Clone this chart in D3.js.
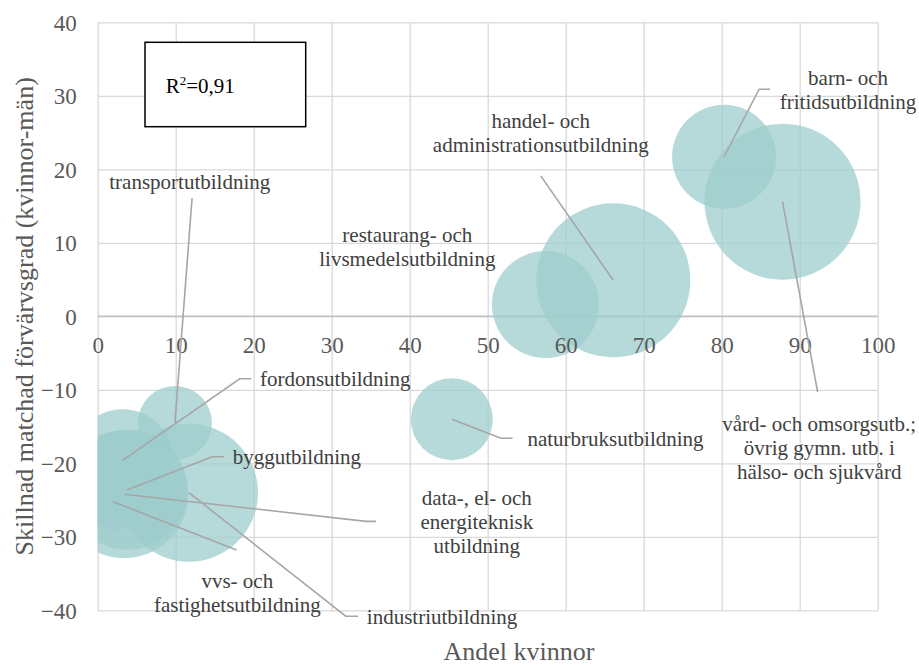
<!DOCTYPE html>
<html><head><meta charset="utf-8">
<script src="https://cdn.jsdelivr.net/npm/d3@7"></script>
<style>
body{margin:0;background:#fff}
svg{display:block}
text{font-family:"Liberation Serif","Times New Roman",serif}
</style>
</head><body>
<svg id="c" width="919" height="665"></svg>
<script>
// ---- data ----
const categories = [
  "barn- och fritidsutbildning",
  "vård- och omsorgsutb.; övrig gymn. utb. i hälso- och sjukvård",
  "handel- och administrationsutbildning",
  "restaurang- och livsmedelsutbildning",
  "naturbruksutbildning",
  "transportutbildning",
  "industriutbildning",
  "fordonsutbildning",
  "byggutbildning",
  "data-, el- och energiteknisk utbildning",
  "vvs- och fastighetsutbildning"
];
const andelKvinnor = [80.3, 87.8, 66.1, 57.4, 45.4, 9.9, 11.7, 3.2, 3.8, 3.4, 1.9];
const skillnad     = [21.7, 15.6, 4.9, 1.6, -14.0, -14.5, -24.0, -19.6, -23.6, -24.2, -25.2];
const bubbleSize   = [44.4, 100, 97.5, 47, 27.6, 22.5, 78.3, 42.8, 59.2, 67.3, 12.9];
const xTicks = [0,10,20,30,40,50,60,70,80,90,100];
const yTicks = [-40,-30,-20,-10,0,10,20,30,40];
const xTitle = "Andel kvinnor";
const yTitle = "Skillnad matchad förvärvsgrad (kvinnor-män)";
const r2Label = ["R", "2", "=0,91"];

// label layout (in data units): text lines, anchor, text position, leader path points
const labelLayout = [
  {i:0, lines:["barn- och","fritidsutbildning"], anchor:"middle", tx:96.2, ty:31.5, path:[[84.8,30.9],[86.2,30.9]]},
  {i:1, lines:["vård- och omsorgsutb.;","övrig gymn. utb. i","hälso- och sjukvård"], anchor:"middle", tx:92.5, ty:-15.6, path:[[92.3,-10.3]]},
  {i:2, lines:["handel- och","administrationsutbildning"], anchor:"middle", tx:56.8, ty:25.6, path:[[56.8,19.1]]},
  {i:3, lines:["restaurang- och","livsmedelsutbildning"], anchor:"middle", tx:39.7, ty:10.1, path:null},
  {i:4, lines:["naturbruksutbildning"], anchor:"start", tx:55.1, ty:-17.6, path:[[51.7,-16.6],[53.2,-16.6]]},
  {i:5, lines:["transportutbildning"], anchor:"middle", tx:11.8, ty:17.3, path:[[12.1,16.1]]},
  {i:6, lines:["industriutbildning"], anchor:"start", tx:34.5, ty:-41.9, path:[[31.8,-40.8],[33.4,-40.8]]},
  {i:7, lines:["fordonsutbildning"], anchor:"start", tx:20.8, ty:-9.5, path:[[18.2,-8.5],[19.7,-8.5]]},
  {i:8, lines:["byggutbildning"], anchor:"start", tx:17.3, ty:-20.1, path:[[14.7,-19.1],[16.2,-19.1]]},
  {i:9, lines:["data-, el- och","energiteknisk","utbildning"], anchor:"middle", tx:48.6, ty:-25.7, path:[[34.4,-27.9],[35.7,-27.9]]},
  {i:10, lines:["vvs- och","fastighetsutbildning"], anchor:"middle", tx:17.9, ty:-36.9, path:[[17.8,-31.8]]}
];

// ---- drawing ----
const svg = d3.select("#c");
const L = 97.7, R = 877.7, T = 22.3, B = 610.3;
const x = d3.scaleLinear().domain([0,100]).range([L,R]);
const y = d3.scaleLinear().domain([-40,40]).range([B,T]);
const rScale = d3.scaleSqrt().domain([0,100]).range([0,78]);

const gridColor = "#d9d9d9", tickColor = "#595959", labelColor = "#404040";

// vertical gridlines
const gx = svg.append("g").attr("transform",`translate(0,${B})`)
  .call(d3.axisBottom(x).tickValues(xTicks).tickSize(-(B-T)).tickFormat(""));
gx.select(".domain").remove();
gx.selectAll("line").attr("stroke",gridColor).attr("stroke-width",1.3);

// horizontal gridlines + y labels
const gy = svg.append("g").attr("transform",`translate(${L},0)`)
  .call(d3.axisLeft(y).tickValues(yTicks).tickSize(-(R-L)).tickPadding(21).tickFormat(d3.format("d")));
gy.select(".domain").remove();
gy.selectAll("line").attr("stroke",gridColor).attr("stroke-width",1.3);
gy.selectAll("text").attr("fill",tickColor).style("font-size","23px")
  .attr("font-family","Liberation Serif").attr("dy","0.34em");

// zero axis line
svg.append("line").attr("x1",L).attr("x2",R).attr("y1",y(0)).attr("y2",y(0))
  .attr("stroke","#bfbfbf").attr("stroke-width",1.6);

// bubbles
svg.append("clipPath").attr("id","plotclip").append("rect")
  .attr("x",L).attr("y",T).attr("width",R-L).attr("height",B-T);
const pts = categories.map((c,i)=>({c, x:andelKvinnor[i], y:skillnad[i], s:bubbleSize[i]}));
svg.append("g").attr("clip-path","url(#plotclip)")
  .selectAll("circle").data(pts).join("circle")
  .attr("cx",d=>x(d.x)).attr("cy",d=>y(d.y)).attr("r",d=>rScale(d.s))
  .attr("fill","#9dcccc").attr("fill-opacity",0.75);

// x tick labels along zero line
const gxl = svg.append("g").attr("transform",`translate(0,${y(0)})`)
  .call(d3.axisBottom(x).tickValues(xTicks).tickSize(0).tickPadding(20).tickFormat(d3.format("d")));
gxl.select(".domain").remove();
gxl.selectAll("text").attr("fill",tickColor).style("font-size","23px").attr("font-family","Liberation Serif");

// leader lines
const line = d3.line().x(p=>x(p[0])).y(p=>y(p[1]));
labelLayout.filter(l=>l.path).forEach(l=>{
  const p0 = [andelKvinnor[l.i], skillnad[l.i]];
  svg.append("path").attr("d", line([p0, ...l.path]))
    .attr("fill","none").attr("stroke","#a6a6a6").attr("stroke-width",1.6);
});

// data labels
labelLayout.forEach(l=>{
  const t = svg.append("text").attr("x",x(l.tx)).attr("y",y(l.ty))
    .attr("text-anchor",l.anchor).attr("fill",labelColor).style("font-size","21px");
  l.lines.forEach((s,k)=>{
    t.append("tspan").attr("x",x(l.tx)).attr("dy",k===0?0:24).text(s);
  });
});

// R² box
svg.append("rect").attr("x",145).attr("y",42.3).attr("width",160.7).attr("height",84.4)
  .attr("fill","#fff").attr("stroke","#000").attr("stroke-width",1.5);
const r2 = svg.append("text").attr("x",165.7).attr("y",92.7).attr("fill","#000").style("font-size","21px");
r2.append("tspan").text(r2Label[0]);
r2.append("tspan").attr("dy",-8).style("font-size","13px").text(r2Label[1]);
r2.append("tspan").attr("dy",8).text(r2Label[2]);

// axis titles
svg.append("text").attr("x",519).attr("y",660).attr("text-anchor","middle")
  .attr("fill",tickColor).style("font-size","26px").text(xTitle);
svg.append("text").attr("transform",`translate(33,${(T+B)/2}) rotate(-90)`).attr("text-anchor","middle")
  .attr("fill",tickColor).style("font-size","26px").text(yTitle);
</script>
</body></html>
